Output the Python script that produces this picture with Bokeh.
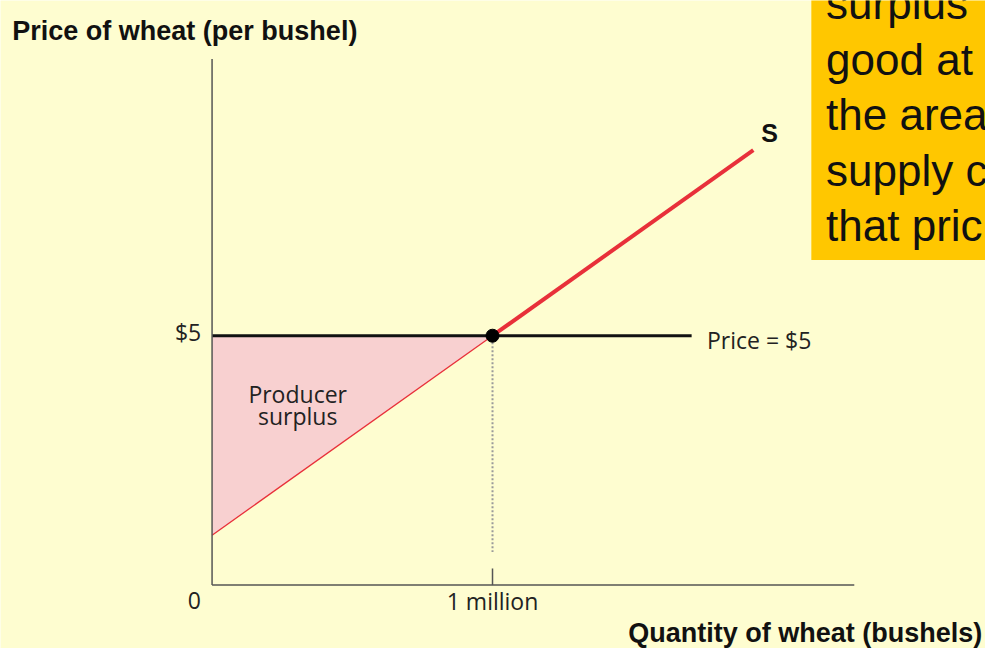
from bokeh.plotting import figure
from bokeh.models import Range1d, BoxAnnotation
from bokeh.core.properties import value
from bokeh.embed import file_html
from bokeh.resources import INLINE

# ---------------- data ----------------
supply_q = [0.0, 1.0, 1.93]        # million bushels
supply_p = [1.0, 5.0, 8.72]        # $ per bushel
price_level = 5.0
equilibrium_q = 1.0
price_line_q = [0.0, 1.71]
axis_q_max = 2.29
axis_p_max = 10.55
x_tick_values = [1.0]
x_tick_labels = ["1 million"]
y_tick_values = [5.0]
y_tick_labels = ["$5"]
origin_label = "0"
y_title = "Price of wheat (per bushel)"
x_title = "Quantity of wheat (bushels)"
supply_label = "S"
price_label = "Price = $5"
area_label = ["Producer", "surplus"]
box_lines = ["surplus", "good at", "the area", "supply c", "that pric"]

# ---------------- layout helpers (reference pixels -> data) ----------------
OX, OY = 215.0, 599.0
PXQ, PXP = 285.0, 51.1
REF_W, REF_H = 1001.0, 664.0


def qx(X):
    return (X - OX) / PXQ


def py(Y):
    return (OY - Y) / PXP


BG = "#FEFDD0"
p = figure(width=985, height=648,
           x_range=Range1d(qx(0), qx(REF_W)), y_range=Range1d(py(REF_H), py(0)),
           output_backend="svg", toolbar_location=None, min_border=0,
           x_axis_type=None, y_axis_type=None)
p.grid.visible = False
p.outline_line_color = None
p.background_fill_color = BG
p.border_fill_color = BG

# producer surplus triangle
p.patch([supply_q[0], supply_q[1], 0.0], [supply_p[0], supply_p[1], price_level],
        fill_color="#F8D0D0", line_color=None)

# dotted drop line
p.line([equilibrium_q, equilibrium_q], [price_level - 0.13, py(565)],
       line_color="#9A9A9A", line_width=2, line_dash="2 2")

# price line
p.line(price_line_q, [price_level, price_level], line_color="#111111", line_width=3)

# supply curve: thin below equilibrium, thick above
p.line(supply_q[:2], supply_p[:2], line_color="#E8303A", line_width=1.3)
p.line(supply_q[1:], supply_p[1:], line_color="#E8303A", line_width=4)

# axes
p.line([0, 0], [0, axis_p_max], line_color="#555555", line_width=1.5)
p.line([0, axis_q_max], [0, 0], line_color="#555555", line_width=1.5)
for xv in x_tick_values:
    p.line([xv, xv], [0, py(582)], line_color="#555555", line_width=1.5)

# equilibrium dot
p.scatter([equilibrium_q], [price_level], size=13, color="#000000")

TICK_FONT = value("Open Sans")
ARIAL = value("Liberation Sans")
# tick labels
p.text(x_tick_values, [py(615)] * len(x_tick_values), text=x_tick_labels,
       text_font=TICK_FONT, text_font_size="23px", text_align="center",
       text_baseline="middle", text_color="#222222")
p.text([qx(204)] * len(y_tick_values), [py(340)] * len(y_tick_values), text=y_tick_labels,
       text_font=TICK_FONT, text_font_size="23px", text_align="right",
       text_baseline="middle", text_color="#222222")
p.text([qx(197)], [py(615)], text=[origin_label],
       text_font=TICK_FONT, text_font_size="23px", text_align="center",
       text_baseline="middle", text_color="#222222")

# price label
p.text([qx(718)], [py(348)], text=[price_label], text_font=TICK_FONT,
       text_font_size="23px", text_align="left", text_baseline="middle",
       text_color="#222222")

# area label
p.text([qx(302)] * 2, [py(403), py(426)], text=area_label, text_font=TICK_FONT,
       text_font_size="23px", text_align="center", text_baseline="middle",
       text_color="#222222")

# supply label
p.text([qx(773)], [py(136)], text=[supply_label], text_font=ARIAL,
       text_font_size="25px", text_font_style="bold", text_align="left",
       text_baseline="middle", text_color="#111111")

# axis titles
p.text([qx(12)], [py(31)], text=[y_title], text_font=ARIAL,
       text_font_size="27px", text_font_style="bold", text_align="left",
       text_baseline="middle", text_color="#111111")
p.text([qx(638)], [py(648)], text=[x_title], text_font=ARIAL,
       text_font_size="27px", text_font_style="bold", text_align="left",
       text_baseline="middle", text_color="#111111")

# orange explanation box
p.add_layout(BoxAnnotation(left=qx(824), right=qx(1010), bottom=py(266), top=py(-10),
                           fill_color="#FFC700", fill_alpha=1.0, line_color=None,
                           level="underlay"))
p.text([qx(839)] * len(box_lines), [py(3 + 57 * i) for i in range(len(box_lines))],
       text=box_lines, text_font=ARIAL, text_font_size="44px",
       text_align="left", text_baseline="middle", text_color="#111111")

open("out.html", "w").write(file_html(p, INLINE))
